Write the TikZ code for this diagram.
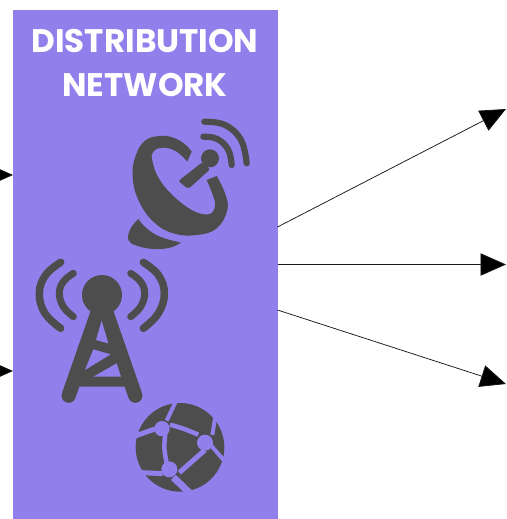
\documentclass[tikz,border=0pt]{standalone}
\usepackage{fontspec}
\setmainfont{Poppins}
\usetikzlibrary{arrows.meta}
\definecolor{boxc}{HTML}{9180EC}
\definecolor{iconc}{HTML}{4D4D4D}
\tikzset{
  flow/.style={draw=black!90,line width=0.75pt,-{Triangle[length=25.5pt,width=22.4pt,fill=black]}},
  title/.style={text=white,font=\bfseries\fontsize{32.6}{32.6}\selectfont,inner sep=0pt,anchor=center},
  arcw/.style={draw=iconc,line cap=round,line join=round},
  net/.style={draw=boxc,line cap=butt}
}
\begin{document}
\begin{tikzpicture}[x=1pt,y=-1pt]
\useasboundingbox (0,0) rectangle (506,519);
\clip (0,0) rectangle (506,519);
\node[fill=boxc,draw=none,minimum width=264.5pt,minimum height=509.5pt,inner sep=0pt,anchor=north west] (box) at (13,9.5) {};
\node[title] (t1) at (145,41.5) {DISTRIBUTION};
\node[title] (t2) at (145,85) {NETWORK};
% connectors
\coordinate (o1) at (506,109);
\coordinate (o2) at (506,264.5);
\coordinate (o3) at (506,384);
\coordinate (b1) at (277.5,227);
\coordinate (b2) at (277.5,264.5);
\coordinate (b3) at (277.5,310);
\coordinate (i1) at (-30,175);
\coordinate (i2) at (-30,371);
\coordinate (e1) at (13,175);
\coordinate (e2) at (13,371);
\draw[flow] (b1) -- (o1);
\draw[flow] (b2) -- (o2);
\draw[flow] (b3) -- (o3);
\draw[flow] (i1) -- (e1);
\draw[flow] (i2) -- (e2);
% satellite dish
\begin{scope}[shift={(110,100)},scale=1/3]
\fill[iconc] plot[smooth,tension=.7] coordinates {(245,155) (225,133) (190,113) (150,108) (105,122) (76,170) (68,230) (85,300) (130,365) (190,400) (260,405) (320,385) (352,330) (345,280) (320,228)}
 -- plot[smooth,tension=.7] coordinates {(290,240) (310,290) (315,320) (295,343) (245,330) (185,283) (145,232) (127,182) (130,155) (160,143) (200,155) (232,185)} -- cycle;
\fill[iconc] plot[smooth,tension=.7] coordinates {(85,357) (110,385) (150,410) (213,428)}
 -- plot[smooth,tension=.7] coordinates {(213,428) (180,443) (130,447) (80,437) (55,420) (62,385) (85,357)} -- cycle;
\fill[iconc] (300,175) circle (27);
\fill[iconc,rounded corners=2pt] (205,243) -- (278,186) -- (300,208) -- (235,267) -- cycle;
\draw[arcw,line width=6.2pt] plot[smooth,tension=.7] coordinates {(283,65) (345,75) (393,120) (410,190)};
\draw[arcw,line width=6.2pt] plot[smooth,tension=.7] coordinates {(280,110) (322,117) (355,150) (365,195)};
\end{scope}
% tower
\begin{scope}[shift={(20,250)},scale=1/3]
\fill[iconc] (246,135) circle (60);
\draw[arcw,line width=14.3pt] (246,150) -- (146,437);
\draw[arcw,line width=14.3pt] (246,150) -- (346,437);
\fill[iconc] (246,150) -- (155,410) -- (337,410) -- cycle;
\fill[boxc] (245,212) -- (265,280) -- (228,270) -- cycle;
\fill[boxc] (220,298) -- (272,313) -- (195,360) -- cycle;
\fill[boxc] (290,340) -- (303,380) -- (220,380) -- cycle;
\draw[arcw,line width=7.5pt] plot[smooth,tension=.7] coordinates {(122,37) (77,75) (58,130) (75,190) (122,235)};
\draw[arcw,line width=7pt] plot[smooth,tension=.7] coordinates {(160,70) (130,95) (118,130) (130,170) (160,200)};
\draw[arcw,line width=7.5pt] plot[smooth,tension=.7] coordinates {(370,37) (415,75) (433,130) (415,190) (370,235)};
\draw[arcw,line width=7pt] plot[smooth,tension=.7] coordinates {(332,70) (362,95) (374,130) (362,170) (332,200)};
\end{scope}
% globe
\begin{scope}[shift={(120,390)},scale=1/3]
\fill[iconc] (180,172) circle (133);
\draw[net,line width=4pt] (167,35) -- (140,92);
\draw[net,line width=5pt] (45,138) -- (105,117);
\draw[net,line width=4.5pt] plot[smooth] coordinates {(150,104) (190,116) (235,134)};
\draw[net,line width=4.5pt] plot[smooth] coordinates {(136,130) (133,175) (141,225)};
\draw[net,line width=5pt] (178,248) -- (255,180);
\draw[net,line width=5pt] (128,251) -- (65,248);
\draw[net,line width=7pt] (160,262) -- (210,310);
\draw[net,line width=4pt] (285,85) -- (277,135);
\draw[net,line width=4pt] (272,165) -- (315,215);
\fill[boxc] (126,116) circle (23);
\fill[boxc] (255,158) circle (24);
\fill[boxc] (148,238) circle (24);
\end{scope}
\end{tikzpicture}
\end{document}
